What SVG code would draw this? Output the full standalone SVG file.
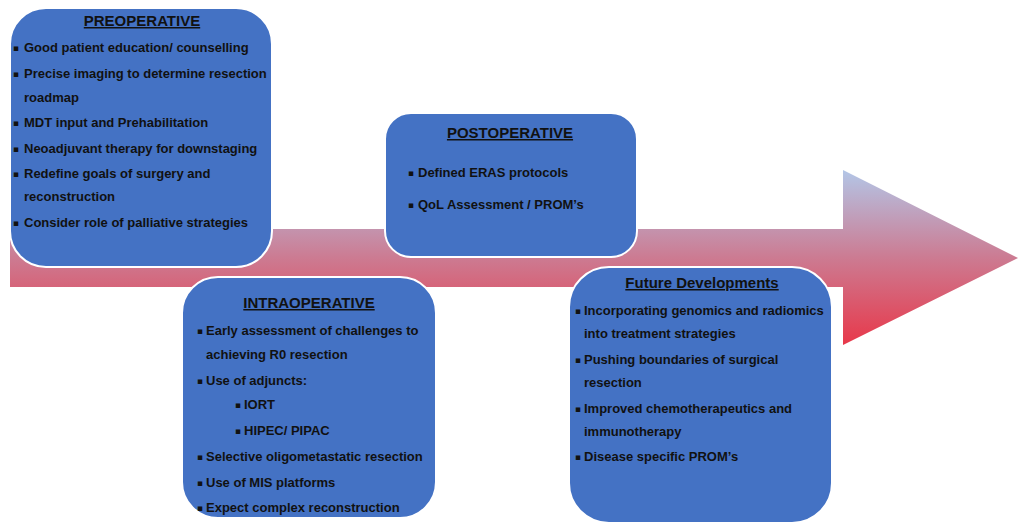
<svg xmlns="http://www.w3.org/2000/svg" width="1024" height="532" viewBox="0 0 1024 532">
<defs>
<linearGradient id="ag" x1="0" y1="170" x2="0" y2="345" gradientUnits="userSpaceOnUse">
<stop offset="0" stop-color="#b3c6e7"/>
<stop offset="0.5" stop-color="#cc7b92"/>
<stop offset="1" stop-color="#e8384a"/>
</linearGradient>
</defs>
<style>
.box{fill:#4472c4;stroke:#ffffff;stroke-width:2}
text{font-family:"Liberation Sans",Arial,sans-serif;font-weight:bold;fill:#111111}
.t{font-size:15px;text-decoration:underline;text-anchor:middle}
.b{font-size:13px}
.bu{font-size:9px;font-family:"DejaVu Sans",sans-serif}
</style>
<rect width="1024" height="532" fill="#ffffff"/>
<g id="arrow">
<path d="M10,229 L843,229 L843,170 L1018,258 L843,345 L843,287 L10,287 Z" fill="url(#ag)"/>
</g>
<g id="preoperative">
<rect class="box" x="10" y="8" width="262" height="259" rx="36"/>
<text class="t" x="142" y="26">PREOPERATIVE</text>
<text class="bu" x="13" y="51">▪</text><text class="b" x="24" y="52">Good patient education/ counselling</text>
<text class="bu" x="13" y="77">▪</text><text class="b" x="24" y="78">Precise imaging to determine resection</text>
<text class="b" x="24" y="102">roadmap</text>
<text class="bu" x="13" y="126">▪</text><text class="b" x="24" y="127">MDT input and Prehabilitation</text>
<text class="bu" x="13" y="152">▪</text><text class="b" x="24" y="153">Neoadjuvant therapy for downstaging</text>
<text class="bu" x="13" y="177">▪</text><text class="b" x="24" y="178">Redefine goals of surgery and</text>
<text class="b" x="24" y="201">reconstruction</text>
<text class="bu" x="13" y="226">▪</text><text class="b" x="24" y="227">Consider role of palliative strategies</text>
</g>
<g id="postoperative">
<rect class="box" x="385" y="113" width="252" height="144" rx="26"/>
<text class="t" x="510" y="138">POSTOPERATIVE</text>
<text class="bu" x="408" y="176">▪</text><text class="b" x="418" y="177">Defined ERAS protocols</text>
<text class="bu" x="408" y="208">▪</text><text class="b" x="418" y="209">QoL Assessment / PROM’s</text>
</g>
<g id="intraoperative">
<rect class="box" x="182" y="277" width="254" height="241" rx="36"/>
<text class="t" x="309" y="308">INTRAOPERATIVE</text>
<text class="bu" x="197" y="334">▪</text><text class="b" x="206" y="335">Early assessment of challenges to</text>
<text class="b" x="206" y="359">achieving R0 resection</text>
<text class="bu" x="197" y="384">▪</text><text class="b" x="206" y="385">Use of adjuncts:</text>
<text class="bu" x="235" y="408">▪</text><text class="b" x="244" y="409">IORT</text>
<text class="bu" x="235" y="434">▪</text><text class="b" x="244" y="435">HIPEC/ PIPAC</text>
<text class="bu" x="197" y="460">▪</text><text class="b" x="206" y="461">Selective oligometastatic resection</text>
<text class="bu" x="197" y="486">▪</text><text class="b" x="206" y="487">Use of MIS platforms</text>
<text class="bu" x="197" y="511">▪</text><text class="b" x="206" y="512">Expect complex reconstruction</text>
</g>
<g id="future">
<rect class="box" x="569" y="267" width="263" height="256" rx="40"/>
<text class="t" x="702" y="288">Future Developments</text>
<text class="bu" x="575" y="314">▪</text><text class="b" x="584" y="315">Incorporating genomics and radiomics</text>
<text class="b" x="584" y="338">into treatment strategies</text>
<text class="bu" x="575" y="363">▪</text><text class="b" x="584" y="364">Pushing boundaries of surgical</text>
<text class="b" x="584" y="387">resection</text>
<text class="bu" x="575" y="412">▪</text><text class="b" x="584" y="413">Improved chemotherapeutics and</text>
<text class="b" x="584" y="436">immunotherapy</text>
<text class="bu" x="575" y="460">▪</text><text class="b" x="584" y="461">Disease specific PROM’s</text>
</g>
</svg>
